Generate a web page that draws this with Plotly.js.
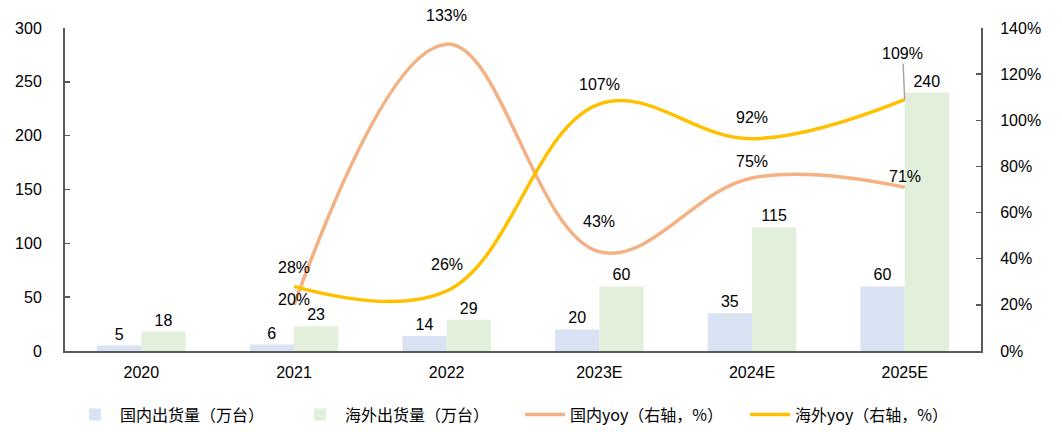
<!DOCTYPE html>
<html>
<head>
<meta charset="utf-8">
<script src="https://cdn.plot.ly/plotly-3.0.1.min.js"></script>
<style>html,body{margin:0;padding:0;background:#fff;}#chart{width:1062px;height:432px;}</style>
</head>
<body>
<div id="chart"></div>
<script>
const years = ['2020', '2021', '2022', '2023E', '2024E', '2025E'];
const domesticShip = [5, 6, 14, 20, 35, 60];
const overseasShip = [18, 23, 29, 60, 115, 240];
const yoyYears = ['2021', '2022', '2023E', '2024E', '2025E'];
const domesticYoy = [20, 133, 43, 75, 71];
const overseasYoy = [28, 26, 107, 92, 109];
const names = ['国内出货量（万台）', '海外出货量（万台）', '国内yoy（右轴，%）', '海外yoy（右轴，%）'];

// label offsets above each point (pixels) - styling only
const domLabelShift = [5, 29, 30, 16, 11];
const ovsLabelShift = [19, 27, 20, 21, 46];

const pct = v => v + '%';
const txtFont = {family: 'Liberation Sans, Arial, sans-serif', size: 16, color: '#000'};

const traces = [
  {type: 'bar', name: names[0], x: years, y: domesticShip, text: domesticShip.map(String),
   textposition: 'outside', textfont: txtFont, cliponaxis: false,
   marker: {color: '#DAE3F3'}, hoverinfo: 'skip'},
  {type: 'bar', name: names[1], x: years, y: overseasShip, text: overseasShip.map(String),
   textposition: 'outside', textfont: txtFont, cliponaxis: false,
   marker: {color: '#E2EFDA'}, hoverinfo: 'skip'},
  {type: 'scatter', mode: 'lines', name: names[2], x: yoyYears, y: domesticYoy, yaxis: 'y2',
   line: {color: '#F4B183', width: 3.5, shape: 'spline', smoothing: 1.1}, hoverinfo: 'skip'},
  {type: 'scatter', mode: 'lines', name: names[3], x: yoyYears, y: overseasYoy, yaxis: 'y2',
   line: {color: '#FFC000', width: 3.5, shape: 'spline', smoothing: 1.1}, hoverinfo: 'skip'}
];

const annotations = [];
yoyYears.forEach((yr, i) => {
  const xi = years.indexOf(yr); // category index on the x axis
  annotations.push({x: xi, y: domesticYoy[i], xref: 'x', yref: 'y2', text: pct(domesticYoy[i]),
    showarrow: false, yanchor: 'middle', yshift: domLabelShift[i], font: txtFont});
  const last = i === yoyYears.length - 1;
  if (last) {
    annotations.push({x: xi, y: overseasYoy[i], xref: 'x', yref: 'y2', text: pct(overseasYoy[i]),
      showarrow: true, arrowhead: 0, arrowwidth: 1.5, arrowcolor: '#A6A6A6',
      ax: -2, ay: -ovsLabelShift[i], font: txtFont});
  } else {
    annotations.push({x: xi, y: overseasYoy[i], xref: 'x', yref: 'y2', text: pct(overseasYoy[i]),
      showarrow: false, yanchor: 'middle', yshift: ovsLabelShift[i], font: txtFont});
  }
});

const axisColor = '#595959';
const tickFont = {family: 'Liberation Sans, Arial, sans-serif', size: 16, color: '#000'};

const layout = {
  width: 1062, height: 432,
  margin: {l: 65, r: 81, t: 28, b: 81},
  paper_bgcolor: '#fff', plot_bgcolor: '#fff',
  barmode: 'group', bargap: 0.42, bargroupgap: 0,
  showlegend: true,
  legend: {orientation: 'h', x: 0.066, xanchor: 'left', xref: 'container',
    y: 0.04, yanchor: 'middle', yref: 'container',
    font: {family: 'Noto Sans CJK SC, sans-serif', size: 16, color: '#000'},
    entrywidth: 170, entrywidthmode: 'pixels', itemwidth: 40, traceorder: 'normal'},
  xaxis: {type: 'category', range: [-0.5, years.length - 0.5], autorange: false,
    showline: true, linecolor: axisColor, linewidth: 2,
    ticks: '', tickfont: tickFont, showgrid: false, zeroline: false, ticklabelstandoff: 6},
  yaxis: {range: [0, 300], dtick: 50, showline: true, linecolor: axisColor, linewidth: 2,
    ticks: 'inside', ticklen: 5, tickcolor: axisColor, tickwidth: 1.5,
    tickfont: tickFont, showgrid: false, zeroline: false, ticklabelstandoff: 18},
  yaxis2: {range: [0, 140], dtick: 20, ticksuffix: '%', overlaying: 'y', side: 'right',
    showline: true, linecolor: axisColor, linewidth: 2,
    ticks: 'inside', ticklen: 5, tickcolor: axisColor, tickwidth: 1.5,
    tickfont: tickFont, showgrid: false, zeroline: false, ticklabelstandoff: 14},
  annotations: annotations
};

Plotly.newPlot('chart', traces, layout, {displayModeBar: false, staticPlot: true});
</script>
</body>
</html>
